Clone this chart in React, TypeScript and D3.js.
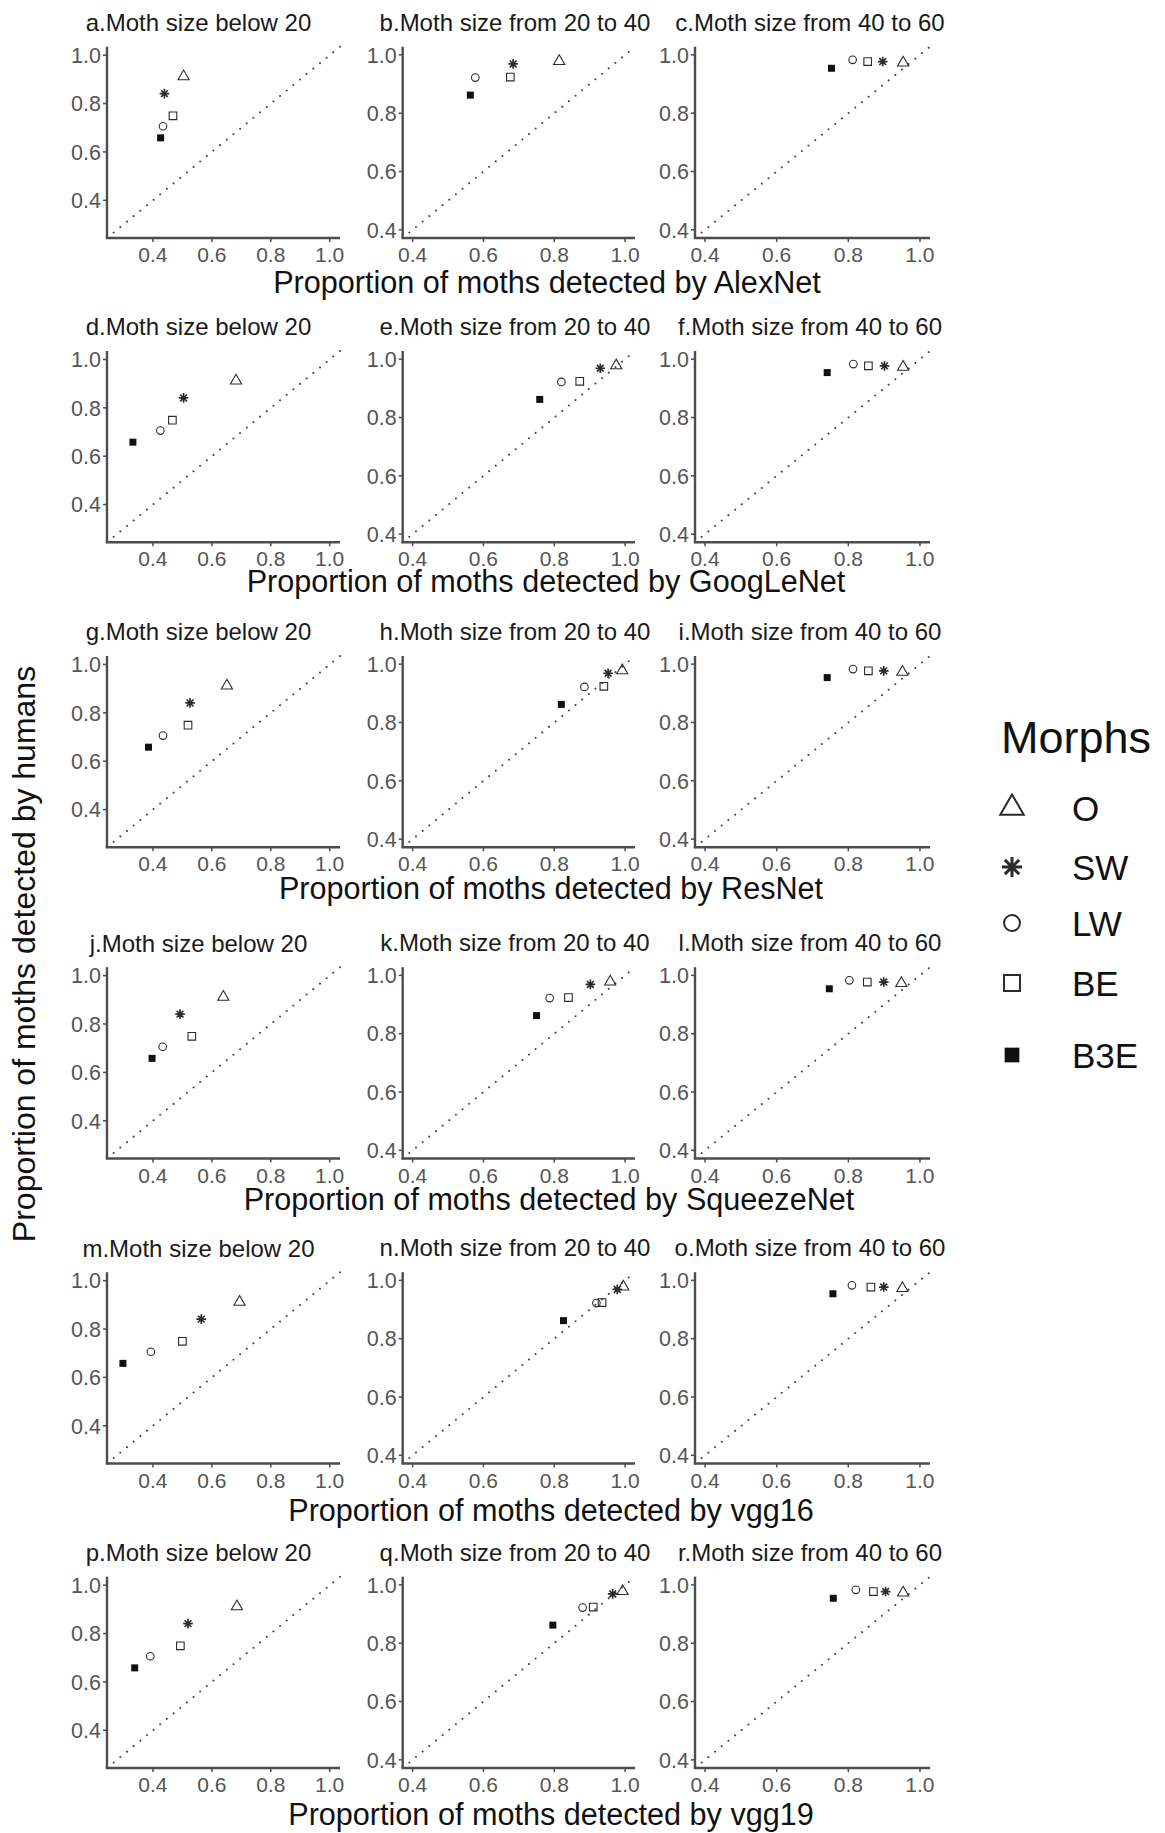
import React from "react";
import * as d3 from "d3";

// morph order used by every value array below
const morphs = ["O", "SW", "LW", "BE", "B3E"];
const sizeClasses = ["Moth size below 20", "Moth size from 20 to 40", "Moth size from 40 to 60"];
const networks = ["AlexNet", "GoogLeNet", "ResNet", "SqueezeNet", "vgg16", "vgg19"];
const panelLetters = ["a", "b", "c", "d", "e", "f", "g", "h", "i", "j", "k", "l", "m", "n", "o", "p", "q", "r"];

// proportion detected by humans (y), one array per size class
const humanBelow20 = [0.912, 0.841, 0.706, 0.749, 0.658];
const human20to40 = [0.978, 0.969, 0.922, 0.924, 0.862];
const human40to60 = [0.973, 0.977, 0.983, 0.977, 0.954];

// proportion detected by each network (x): [below 20, 20-40, 40-60]
const alexNet = [
  [0.504, 0.439, 0.434, 0.468, 0.426],
  [0.814, 0.684, 0.577, 0.676, 0.563],
  [0.953, 0.896, 0.812, 0.854, 0.753],
];
const googLeNet = [
  [0.682, 0.504, 0.425, 0.466, 0.332],
  [0.975, 0.930, 0.820, 0.872, 0.759],
  [0.953, 0.901, 0.814, 0.856, 0.741],
];
const resNet = [
  [0.651, 0.526, 0.434, 0.519, 0.385],
  [0.992, 0.952, 0.885, 0.940, 0.820],
  [0.951, 0.899, 0.813, 0.856, 0.741],
];
const squeezeNet = [
  [0.639, 0.492, 0.433, 0.532, 0.397],
  [0.958, 0.902, 0.787, 0.840, 0.750],
  [0.948, 0.899, 0.803, 0.853, 0.747],
];
const vgg16 = [
  [0.694, 0.564, 0.393, 0.500, 0.298],
  [0.995, 0.978, 0.919, 0.935, 0.826],
  [0.951, 0.899, 0.810, 0.863, 0.757],
];
const vgg19 = [
  [0.685, 0.519, 0.391, 0.493, 0.338],
  [0.993, 0.965, 0.880, 0.910, 0.796],
  [0.953, 0.904, 0.821, 0.870, 0.758],
];

const humanBySize = [humanBelow20, human20to40, human40to60];
const networkValues = [alexNet, googLeNet, resNet, squeezeNet, vgg16, vgg19];

// layout
const width = 1165;
const height = 1833;
const font = "'Liberation Sans', Arial, Helvetica, sans-serif";
const colRanges = [[107, 340], [402.7, 635], [695, 930]];
const colDomains = [[0.244, 1.035], [0.372, 1.028], [0.372, 1.028]];
const colTitleX = [198.5, 515, 810];
const rowOffsets = [0, 304.3, 609.3, 920.5, 1225.5, 1530];
const plotTop = 46.7;
const plotBottom = 238;
const xTitlePos = [[547, 293], [546, 592], [551, 899], [549, 1210], [551, 1521], [551, 1825]];

function markerPath(m: string, s: number) {
  const p = d3.path();
  if (m === "O") {
    const a = 5.6 * s;
    const h = a * Math.sqrt(3);
    p.moveTo(0, (-h * 2) / 3);
    p.lineTo(a, h / 3);
    p.lineTo(-a, h / 3);
    p.closePath();
  } else if (m === "SW") {
    const r = 4.8 * s;
    const d = r * Math.SQRT1_2;
    p.moveTo(-r, 0); p.lineTo(r, 0);
    p.moveTo(0, -r); p.lineTo(0, r);
    p.moveTo(-d, -d); p.lineTo(d, d);
    p.moveTo(-d, d); p.lineTo(d, -d);
  } else if (m === "LW") {
    const r = 3.8 * s;
    p.moveTo(r, 0);
    p.arc(0, 0, r, 0, Math.PI * 2);
  } else if (m === "BE") {
    const h = 3.8 * s;
    p.rect(-h, -h, 2 * h, 2 * h);
  } else {
    const h = 3.5 * s;
    p.rect(-h, -h, 2 * h, 2 * h);
  }
  return p.toString();
}

function Marker({ m, x, y, s, sw }: { m: string; x: number; y: number; s: number; sw: number }) {
  const filled = m === "B3E";
  return (
    <path
      d={markerPath(m, s)}
      transform={`translate(${x},${y})`}
      fill={filled ? "#111" : "none"}
      stroke={filled ? "none" : "#2b2b2b"}
      strokeWidth={m === "SW" ? sw * 1.5 : sw}
    />
  );
}

function Panel({ row, col }: { row: number; col: number }) {
  const off = rowOffsets[row];
  const x = d3.scaleLinear().domain(colDomains[col]).range(colRanges[col]);
  const y = d3.scaleLinear().domain(colDomains[col]).range([plotBottom + off, plotTop + off]);
  const fmt = d3.format(".1f");
  const xs = networkValues[row][col];
  const ys = humanBySize[col];
  const [d0, d1] = colDomains[col];
  const [x0, x1] = colRanges[col];
  const letter = panelLetters[row * 3 + col];
  return (
    <g>
      <text x={colTitleX[col]} y={y(1) - 24} textAnchor="middle" fontSize={24} fill="#1a1a1a" fontFamily={font}>
        {letter}.{sizeClasses[col]}
      </text>
      <line
        x1={x(d0)} y1={y(d0)} x2={x(d1)} y2={y(d1)}
        stroke="#444" strokeWidth={2} strokeDasharray="0.01 8.6" strokeLinecap="round"
      />
      {/* axes */}
      <line x1={x0} x2={x0} y1={plotTop + off} y2={plotBottom + off} stroke="#4d4d4d" strokeWidth={2.4} />
      <line x1={x0 - 1.2} x2={x1} y1={plotBottom + off} y2={plotBottom + off} stroke="#4d4d4d" strokeWidth={2.4} />
      {y.ticks(4).map((t) => (
        <g key={"y" + t}>
          <line x1={x0 - 4} x2={x0} y1={y(t)} y2={y(t)} stroke="#4d4d4d" strokeWidth={1.5} />
          <text x={x0 - 6} y={y(t)} dy="0.36em" textAnchor="end" fontSize={21.5} fill="#555" fontFamily={font}>
            {fmt(t)}
          </text>
        </g>
      ))}
      {x.ticks(4).map((t) => (
        <g key={"x" + t}>
          <line x1={x(t)} x2={x(t)} y1={plotBottom + off} y2={plotBottom + off + 4} stroke="#4d4d4d" strokeWidth={1.5} />
          <text x={x(t)} y={plotBottom + off + 24} textAnchor="middle" fontSize={21} fill="#555" fontFamily={font}>
            {fmt(t)}
          </text>
        </g>
      ))}
      {morphs.map((m, i) => (
        <Marker key={m} m={m} x={x(xs[i])} y={y(ys[i])} s={1} sw={1.1} />
      ))}
    </g>
  );
}

export default function App() {
  const legendY = [808, 867, 923, 983, 1055];
  return (
    <svg
      width={width}
      height={height}
      style={{ position: "absolute", left: 0, top: 0, background: "#fff" }}
      fontFamily={font}
    >
      <rect width={width} height={height} fill="#fff" />
      {networks.map((net, r) => (
        <g key={net}>
          {sizeClasses.map((_, c) => (
            <Panel key={c} row={r} col={c} />
          ))}
          <text x={xTitlePos[r][0]} y={xTitlePos[r][1]} textAnchor="middle" fontSize={30.6} fill="#111">
            Proportion of moths detected by {net}
          </text>
        </g>
      ))}
      <text
        transform={`translate(35,954) rotate(-90)`}
        textAnchor="middle"
        fontSize={32}
        fill="#111"
      >
        Proportion of moths detected by humans
      </text>
      {/* legend */}
      <text x={1001} y={753} fontSize={45} fill="#111">Morphs</text>
      {morphs.map((m, i) => (
        <g key={m}>
          <Marker m={m} x={1012} y={legendY[i]} s={2.1} sw={2} />
          <text x={1072} y={legendY[i]} dy="0.36em" fontSize={35} fill="#111">
            {m}
          </text>
        </g>
      ))}
    </svg>
  );
}
